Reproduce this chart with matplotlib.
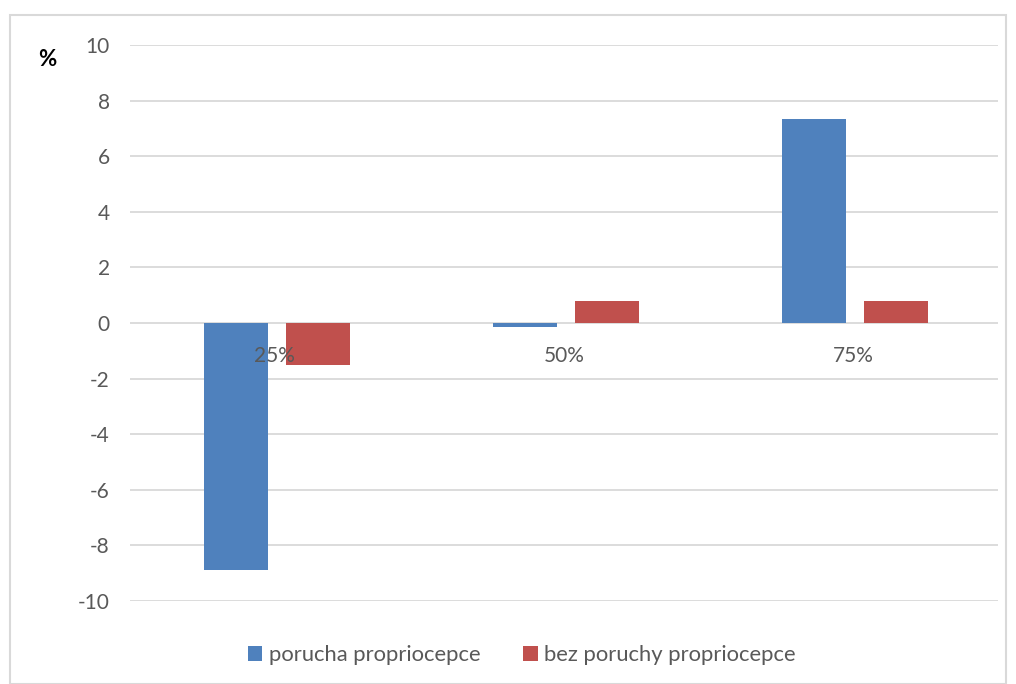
import matplotlib.pyplot as plt
from matplotlib.patches import Rectangle
import numpy as np

categories = ["25%", "50%", "75%"]
porucha = [-8.9, -0.15, 7.35]
bez_poruchy = [-1.5, 0.8, 0.8]
series_names = ["porucha propriocepce", "bez poruchy propriocepce"]
yticks = [-10, -8, -6, -4, -2, 0, 2, 4, 6, 8, 10]

plt.rcParams['font.family'] = ['Lato', 'DejaVu Sans']
gray = "#595959"
fs = 15

fig = plt.figure(figsize=(10.16, 6.84), dpi=100)
# chart frame
fig.patches.append(Rectangle((10 / 1016, 0), 996 / 1016, 1 - 15 / 684, transform=fig.transFigure,
                             fill=False, edgecolor="#d9d9d9", linewidth=1.5))

ax = fig.add_axes([130 / 1016, 1 - 601 / 684, 868 / 1016, 556 / 684])
x = np.arange(len(categories))
w = 0.221
ax.bar(x - 0.135, porucha, w, color="#4f81bd", label=series_names[0], zorder=3)
ax.bar(x + 0.149, bez_poruchy, w, color="#c0504d", label=series_names[1], zorder=3)

ax.set_xlim(-0.5, 2.5)
ax.set_ylim(-10, 10)
ax.set_yticks(yticks)
ax.set_yticklabels([str(t) for t in yticks])
ax.yaxis.grid(True, color="#d9d9d9", linewidth=1.3, zorder=0)
ax.set_xticks([])
for s in ax.spines.values():
    s.set_visible(False)
ax.tick_params(axis="y", length=0, pad=14.5, labelsize=fs, labelcolor=gray)

# category labels sit just below the zero line
for xi, c in zip(x, categories):
    ax.text(xi, -1.2, c, ha="center", va="center", fontsize=fs, color=gray, zorder=4)

fig.text(47 / 1016, 1 - 60 / 684, "%", fontsize=16, fontweight="bold", color="black",
         ha="center", va="center")

leg = fig.legend(loc="center", bbox_to_anchor=(522 / 1016, 1 - 655 / 684), ncol=2, frameon=False,
                 fontsize=15.8, handlelength=0.65, handleheight=0.65, handletextpad=0.3,
                 columnspacing=1.95)
for t in leg.get_texts():
    t.set_color(gray)

fig.savefig("out.png", dpi=100)
